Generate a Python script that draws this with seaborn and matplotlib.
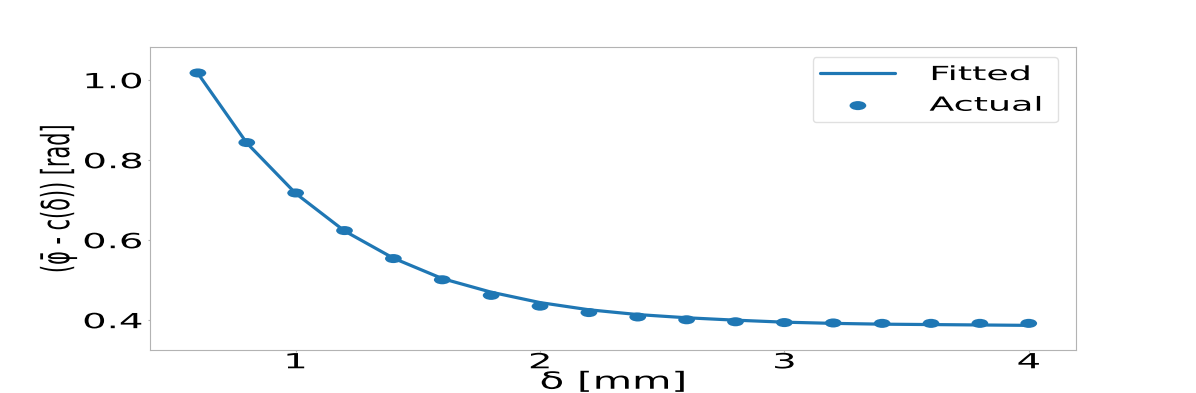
import matplotlib
matplotlib.use("Agg")
import matplotlib.pyplot as plt
import seaborn as sns
from matplotlib.patheffects import AbstractPathEffect
from matplotlib.transforms import Affine2D
from matplotlib.path import Path
from matplotlib.markers import MarkerStyle

# ---------------- data ----------------
delta_mm = [0.6, 0.8, 1.0, 1.2, 1.4, 1.6, 1.8, 2.0, 2.2, 2.4,
            2.6, 2.8, 3.0, 3.2, 3.4, 3.6, 3.8, 4.0]
phi_actual = [1.018, 0.844, 0.718, 0.624, 0.554, 0.501, 0.462, 0.435, 0.419, 0.408,
              0.401, 0.396, 0.394, 0.393, 0.392, 0.392, 0.392, 0.392]
phi_fitted = [1.017, 0.843, 0.717, 0.623, 0.555, 0.504, 0.470, 0.444, 0.426, 0.414,
              0.406, 0.400, 0.395, 0.392, 0.390, 0.389, 0.388, 0.387]
x_ticks = [1, 2, 3, 4]
y_ticks = [0.4, 0.6, 0.8, 1.0]
x_label = "δ [mm]"
y_label = r"($\bar{\varphi}$ - c(δ)) [rad]"
legend_labels = ["Fitted", "Actual"]

# ---------------- style ----------------
sns.set_style("white")
plt.rcParams["font.family"] = ["DejaVu Sans"]
plt.rcParams["mathtext.fontset"] = "dejavusans"
plt.rcParams["mathtext.default"] = "regular"
plt.rcParams["text.color"] = "black"

BLUE = "#1f77b4"
SX = 1.85  # horizontal widening of the lettering seen in the reference


class Stretch(AbstractPathEffect):
    """Draw text widened about an anchor point (text stays real text)."""

    def __init__(self, sx=1.0, sy=1.0, ax_="mid", ay_="mid"):
        super().__init__()
        self.sx, self.sy, self.axs, self.ays = sx, sy, ax_, ay_

    @staticmethod
    def _anchor(spec, lo, hi):
        if spec == "lo":
            return lo
        if spec == "hi":
            return hi
        if spec == "mid":
            return (lo + hi) / 2
        return float(spec)

    def draw_path(self, renderer, gc, tpath, affine, rgbFace=None):
        ext = tpath.get_extents()
        px = self._anchor(self.axs, ext.x0, ext.x1)
        py = self._anchor(self.ays, ext.y0, ext.y1)
        t = Affine2D().translate(-px, -py).scale(self.sx, self.sy).translate(px, py)
        renderer.draw_path(gc, tpath, t + affine, rgbFace)


fig, ax = plt.subplots(figsize=(11.96, 3.93), dpi=100)

ellipse = MarkerStyle(Path.unit_circle().transformed(Affine2D().scale(SX, 1.0)))

sns.lineplot(x=delta_mm, y=phi_fitted, ax=ax, color=BLUE, linewidth=2.3,
             label=legend_labels[0], zorder=3)
sns.scatterplot(x=delta_mm, y=phi_actual, ax=ax, color=BLUE, marker=ellipse,
                s=145, edgecolor="none", linewidth=0, label=legend_labels[1], zorder=2)

ax.set_xlim(0.402, 4.195)
ax.set_ylim(0.326, 1.0825)
ax.set_xticks(x_ticks)
ax.set_yticks(y_ticks)

for sp in ax.spines.values():
    sp.set_color(".7")
    sp.set_linewidth(0.8)

ax.tick_params(axis="x", bottom=True, length=1.5, width=0.8, color=".7",
               pad=0.3, labelsize=15, labelcolor="black")
ax.tick_params(axis="y", left=True, length=1.5, width=0.8, color=".7",
               pad=3.6, labelsize=15, labelcolor="black")

ax.set_xlabel(x_label, fontsize=17, color="black")
ax.set_ylabel(y_label, fontsize=15, color="black")
ax.xaxis.set_label_coords(0.5, -0.066)
ax.yaxis.set_label_coords(-0.0763, 0.5)

leg = ax.legend(loc="upper right", bbox_to_anchor=(0.9805, 0.9666),
                borderaxespad=0, fontsize=14, borderpad=0.4,
                handlelength=3.86, handletextpad=4.84, labelspacing=0.6,
                frameon=True)
leg.get_frame().set_edgecolor(".85")

for t in ax.get_xticklabels():
    t.set_path_effects([Stretch(SX, 1.0, "mid", "mid")])
for t in ax.get_yticklabels():
    t.set_path_effects([Stretch(SX, 1.0, "hi", "mid")])
ax.xaxis.label.set_path_effects([Stretch(1.71, 1.0, "mid", "mid")])
ax.yaxis.label.set_path_effects([Stretch(1.0, SX, "mid", "lo")])
for t in leg.get_texts():
    t.set_color("black")
    t.set_path_effects([Stretch(1.875, 1.0, 354.0, "mid")])

fig.savefig("out.png", dpi=100)
